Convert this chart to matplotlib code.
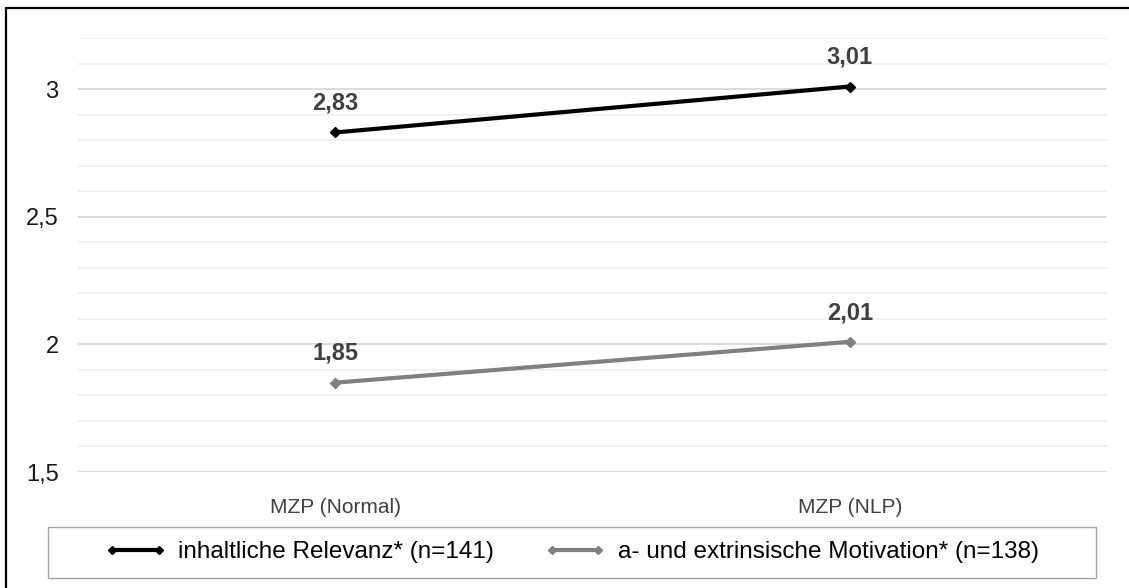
import matplotlib.pyplot as plt
from matplotlib.patches import Rectangle
from matplotlib.ticker import MultipleLocator, FuncFormatter

plt.rcParams['font.family'] = ['Liberation Sans', 'DejaVu Sans']

categories = ['MZP (Normal)', 'MZP (NLP)']
relevanz = [2.83, 3.01]
motivation = [1.85, 2.01]
series_labels = ['inhaltliche Relevanz* (n=141)',
                 'a- und extrinsische Motivation* (n=138)']
series_colors = ['#000000', '#808080']

fig = plt.figure(figsize=(11.29, 5.88), dpi=100)
ax = fig.add_axes([78 / 1129, 1 - 472 / 588, 1029 / 1129, 434 / 588])

x = range(len(categories))
for vals, lab, col in zip([relevanz, motivation], series_labels, series_colors):
    ax.plot(x, vals, color=col, linewidth=3, marker='D', markersize=5,
            label=lab, solid_capstyle='butt')
    for xi, v in zip(x, vals):
        ax.annotate(f'{v:.2f}'.replace('.', ','), (xi, v), xytext=(0, 21),
                    textcoords='offset points', ha='center', va='center',
                    fontsize=17, fontweight='bold', color='#404040')

ax.set_xlim(-0.5, 1.5)
ax.set_ylim(1.5, 3.2)
ax.set_xticks(list(x))
ax.set_xticklabels(categories, fontsize=15, color='#404040')
ax.yaxis.set_major_locator(MultipleLocator(0.5))
ax.yaxis.set_minor_locator(MultipleLocator(0.1))
ax.yaxis.set_major_formatter(FuncFormatter(lambda v, p: f'{v:g}'.replace('.', ',')))
ax.tick_params(axis='y', which='major', length=0, pad=14, labelsize=17, labelcolor='#1a1a1a')
ax.tick_params(axis='y', which='minor', length=0)
ax.tick_params(axis='x', length=0, pad=19)
ax.grid(axis='y', which='major', color='#d9d9d9', linewidth=1.3)
ax.grid(axis='y', which='minor', color='#f0f0f0', linewidth=1.3)
ax.set_axisbelow(True)
for s in ax.spines.values():
    s.set_visible(False)

# legend box under the plot
fig.patches.append(Rectangle((48 / 1129, 1 - 578 / 588), 1048 / 1129, 51 / 588,
                             transform=fig.transFigure, fill=False,
                             edgecolor='#a6a6a6', linewidth=1))
handles, labels = ax.get_legend_handles_labels()
fig.legend(handles, labels, loc='center', bbox_to_anchor=(572 / 1129, 1 - 552 / 588),
           ncol=2, frameon=False, numpoints=2, fontsize=17.5, handlelength=2.5,
           handletextpad=0.5, columnspacing=2.1, markerscale=0.9)

# outer chart border (only top and left fall inside the image)
fig.patches.append(Rectangle((6 / 1129, -0.1), 1.2, 1.1 - 8 / 588,
                             transform=fig.transFigure, fill=False,
                             edgecolor='#000000', linewidth=1.6))

fig.savefig('out.png', dpi=100, facecolor='white')
